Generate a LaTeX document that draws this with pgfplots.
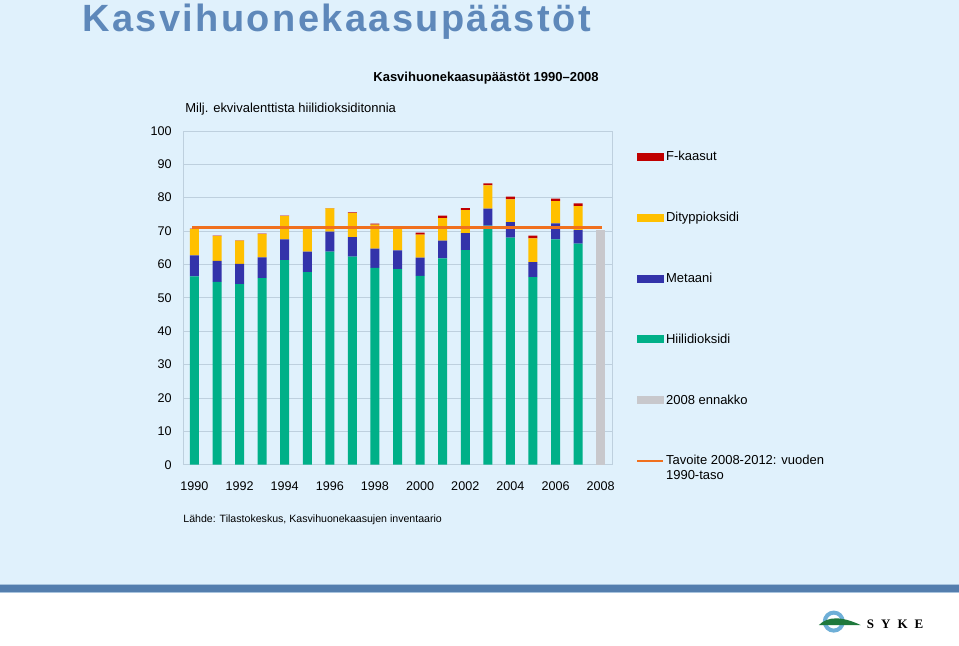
\documentclass[border=0pt]{standalone}
\usepackage{pgfplots}
\pgfplotsset{compat=1.18}
\usepackage{pgfplotstable}
\usepackage{fontspec}
\setmainfont{Liberation Sans}
\newfontfamily\serifl{Liberation Serif}
\definecolor{bg}{RGB}{224,241,252}
\definecolor{ttl}{RGB}{94,136,186}
\definecolor{band}{RGB}{84,126,174}
\definecolor{gridc}{RGB}{190,208,222}
\definecolor{cgreen}{RGB}{0,176,136}
\definecolor{cblue}{RGB}{51,51,170}
\definecolor{cyellow}{RGB}{255,192,0}
\definecolor{cred}{RGB}{192,0,0}
\definecolor{cgray}{RGB}{200,200,204}
\definecolor{corange}{RGB}{240,112,30}
\definecolor{ring}{RGB}{110,175,215}
\definecolor{hill}{RGB}{30,120,60}

\pgfplotstableread{
x co2 ch4 n2o f gray
0 56.4 6.3 7.9 0.1 0
1 54.8 6.3 7.4 0.1 0
2 54.1 6.1 6.9 0.1 0
3 55.9 6.2 7.0 0.1 0
4 61.3 6.2 7.0 0.1 0
5 57.7 6.1 7.0 0.1 0
6 63.8 6.0 7.0 0.1 0
7 62.3 5.9 7.2 0.2 0
8 59.0 5.7 7.2 0.3 0
9 58.6 5.6 6.5 0.4 0
10 56.6 5.4 6.9 0.6 0
11 61.8 5.3 6.8 0.7 0
12 64.3 5.1 6.9 0.6 0
13 71.6 5.1 7.0 0.6 0
14 68.0 4.7 6.8 0.8 0
15 56.2 4.5 7.1 0.8 0
16 67.5 4.8 6.7 0.7 0
17 66.2 4.1 7.2 0.8 0
18 0 0 0 0 70.2
}\datatable

\pgfplotstableread{
x target
-0.1 71.05
18.05 71.05
}\targettable

\begin{document}
\begin{tikzpicture}[x=1bp,y=1bp]
\fill[bg] (0,61) rectangle (959,646);
\fill[band] (0,53) rectangle (959,61);
\draw[bg!60!band, line width=0.6bp] (0,61) -- (959,61);
\draw[bg!60!band, line width=0.6bp] (0,53) -- (959,53);
\fill[white] (0,0) rectangle (959,52.7);

\node[anchor=base west, inner sep=0pt, text=ttl, font=\fontsize{38bp}{40bp}\selectfont\bfseries\addfontfeature{LetterSpace=6.3}] at (82,614) {Kasvihuonekaasupäästöt};
\node[anchor=base east, inner sep=0pt, font=\fontsize{13bp}{15bp}\selectfont\bfseries] at (599,564) {Kasvihuonekaasupäästöt 1990–2008};
\node[anchor=base west, inner sep=0pt, font=\fontsize{13bp}{15bp}\selectfont] at (185,533) {Milj. ekvivalenttista hiilidioksiditonnia};
\node[anchor=base west, inner sep=0pt, font=\fontsize{10.6bp}{12bp}\selectfont] at (183,123) {Lähde: Tilastokeskus, Kasvihuonekaasujen inventaario};

% logo
\draw[ring, line width=4bp] (834,24) circle (9bp);
\fill[hill] (819,20.5) .. controls (828,29.5) and (842,29.5) .. (861,20.5) -- cycle;
\node[anchor=west, inner sep=0pt, font=\serifl\fontsize{13bp}{15bp}\selectfont\bfseries] at (867,21) {S\hspace{7bp}Y\hspace{7bp}K\hspace{7bp}E};

\begin{axis}[
  at={(183bp,181bp)}, anchor=south west, scale only axis,
  width=429bp, height=334bp,
  xmin=-0.5, xmax=18.5, ymin=0, ymax=100,
  ybar stacked, bar width=9bp,
  xtick={0,2,...,18},
  xticklabels={1990,1992,1994,1996,1998,2000,2002,2004,2006,2008},
  ytick={0,10,...,100},
  ymajorgrids, grid style={gridc, line width=0.8bp},
  axis line style={gridc, line width=0.8bp},
  major tick length=0pt,
  tick label style={font=\fontsize{12.6bp}{15bp}\selectfont},
  /pgf/number format/assume math mode=true,
  yticklabel style={xshift=-8bp},
  xticklabel style={yshift=-13bp},
  legend cell align=left,
  legend style={at={(1,1)}, anchor=north west, xshift=24bp, yshift=-20bp,
    draw=none, fill=none, row sep=50bp, column sep=0pt, inner sep=0pt,
    font=\fontsize{13bp}{15bp}\selectfont,
    cells={align=left},
    nodes={inner xsep=1.5bp, inner ysep=0pt}},
]
\addlegendimage{legend image code/.code={\fill[cred] (0bp,-3.5bp) rectangle (26bp,3.5bp);}}
\addlegendentry{F-kaasut}
\addlegendimage{legend image code/.code={\fill[cyellow] (0bp,-3.5bp) rectangle (26bp,3.5bp);}}
\addlegendentry{Dityppioksidi}
\addlegendimage{legend image code/.code={\fill[cblue] (0bp,-3.5bp) rectangle (26bp,3.5bp);}}
\addlegendentry{Metaani}
\addlegendimage{legend image code/.code={\fill[cgreen] (0bp,-3.5bp) rectangle (26bp,3.5bp);}}
\addlegendentry{Hiilidioksidi}
\addlegendimage{legend image code/.code={\fill[cgray] (0bp,-3.5bp) rectangle (26bp,3.5bp);}}
\addlegendentry{2008 ennakko}
\addlegendimage{legend image code/.code={\draw[corange, line width=2.5bp] (0bp,7.5bp) -- (26bp,7.5bp); \path[draw=none, fill=none] (0bp,-7.5bp) rectangle (26bp,-7.4bp);}}
\addlegendentry{Tavoite 2008-2012: vuoden\\1990-taso}

\addplot[forget plot, fill=cgreen, draw=none] table[x=x, y=co2] {\datatable};
\addplot[forget plot, fill=cblue, draw=none] table[x=x, y=ch4] {\datatable};
\addplot[forget plot, fill=cyellow, draw=none] table[x=x, y=n2o] {\datatable};
\addplot[forget plot, fill=cred, draw=none] table[x=x, y=f] {\datatable};
\addplot[forget plot, fill=cgray, draw=none] table[x=x, y=gray] {\datatable};
\end{axis}

\begin{axis}[
  at={(183bp,181bp)}, anchor=south west, scale only axis,
  width=429bp, height=334bp,
  xmin=-0.5, xmax=18.5, ymin=0, ymax=100,
  hide axis,
]
\addplot[corange, line width=3.8bp, no marks] table[x=x, y=target] {\targettable};
\end{axis}
\end{tikzpicture}
\end{document}
